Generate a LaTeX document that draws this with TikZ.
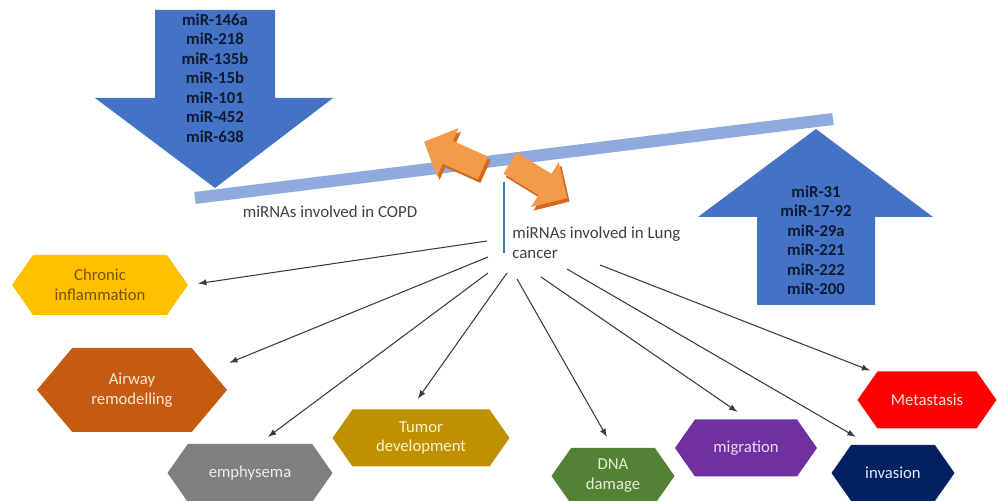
\documentclass[tikz,border=0pt]{standalone}
\usepackage{fontspec}
\setmainfont{Carlito}
\usepackage{tikz}
\usetikzlibrary{arrows}
\usetikzlibrary{shapes.symbols}

\definecolor{arrowblue}{HTML}{4472C4}
\definecolor{barblue}{HTML}{8FAADC}
\definecolor{mirtext}{HTML}{0F1A33}
\definecolor{captext}{HTML}{404040}
\definecolor{linkgray}{HTML}{3A3A3A}
\definecolor{orangelight}{HTML}{F39B4A}
\definecolor{orangedark}{HTML}{D2691E}
\definecolor{chronicfill}{HTML}{FFC000}
\definecolor{chronictext}{HTML}{7F5200}
\definecolor{airwayfill}{HTML}{C55A11}
\definecolor{airwaytext}{HTML}{FBE5D6}
\definecolor{emphfill}{HTML}{7F7F7F}
\definecolor{emphtext}{HTML}{EDEDED}
\definecolor{tumorfill}{HTML}{BF9000}
\definecolor{tumortext}{HTML}{FFF2CC}
\definecolor{dnafill}{HTML}{548235}
\definecolor{dnatext}{HTML}{E2F0D9}
\definecolor{migrfill}{HTML}{7030A0}
\definecolor{migrtext}{HTML}{E8DAF5}
\definecolor{invfill}{HTML}{002060}
\definecolor{invtext}{HTML}{DEEBF7}
\definecolor{metafill}{HTML}{FF0000}
\definecolor{metatext}{HTML}{FFE0E0}

\begin{document}
\begin{tikzpicture}[>=latex,
  hexa/.style={signal, signal to=east and west, signal pointer angle=110, inner sep=0pt, align=center,
    font=\fontsize{9.5}{11.3}\selectfont, fill=#1},
  mirlist/.style={align=center, inner sep=0pt, text=mirtext, font=\fontsize{9.5}{11.1}\selectfont\bfseries},
  caption/.style={align=left, inner sep=0pt, text=captext, font=\fontsize{9.6}{11.4}\selectfont},
  link/.style={->, semithick, draw=linkgray}]

\useasboundingbox (0,0) rectangle (19.96,10.02);

\fill [arrowblue] (3.10,9.82) -- (5.50,9.82) -- (5.50,8.06) -- (6.66,8.06) -- (4.30,6.26) -- (1.90,8.06) -- (3.10,8.06) -- cycle;
\fill [arrowblue] (15.14,3.92) -- (17.50,3.92) -- (17.50,5.68) -- (18.66,5.68) -- (16.32,7.44) -- (13.96,5.68) -- (15.14,5.68) -- cycle;

\coordinate (barl) at (3.90,6.06);
\coordinate (barr) at (16.66,7.64);
\draw [barblue, line width=0.24cm] (barl) -- (barr);

\foreach \dx/\dy/\c in {0.05/-0.07/orangedark, 0/0/orangelight}{
  \begin{scope}[shift={(9.66+\dx,6.66+\dy)}, rotate=156]
    \fill [\c] (0,-0.25) -- (0.77,-0.25) -- (0.77,-0.53) -- (1.29,0) -- (0.77,0.53) -- (0.77,0.25) -- (0,0.25) -- cycle;
  \end{scope}
  \begin{scope}[shift={(10.20+\dx,6.76+\dy)}, rotate=-31.6]
    \fill [\c] (0,-0.25) -- (0.82,-0.25) -- (0.82,-0.53) -- (1.34,0) -- (0.82,0.53) -- (0.82,0.25) -- (0,0.25) -- cycle;
  \end{scope}
}

\draw [arrowblue, line width=0.04cm] (10.08,6.38) -- (10.08,4.96);

\node [mirlist] (copdmirs) at (4.30,8.46) {miR-146a\\miR-218\\miR-135b\\miR-15b\\miR-101\\miR-452\\miR-638};
\node [mirlist] (lungmirs) at (16.32,5.22) {miR-31\\miR-17-92\\miR-29a\\miR-221\\miR-222\\miR-200};

\node [caption] (copd) at (6.60,5.78) {miRNAs involved in COPD};
\node [caption, anchor=west] (lung) at (10.24,5.16) {miRNAs involved in Lung\\cancer};

\node [hexa=chronicfill, text=chronictext, minimum width=3.52cm, minimum height=1.20cm] (chronic) at (2.00,4.32) {Chronic\\inflammation};
\node [hexa=airwayfill, text=airwaytext, signal pointer angle=100, minimum width=3.80cm, minimum height=1.68cm] (airway) at (2.64,2.22) {Airway\\remodelling};
\node [hexa=emphfill, text=emphtext, minimum width=3.30cm, minimum height=1.16cm] (emph) at (5.00,0.56) {emphysema};
\node [hexa=tumorfill, text=tumortext, minimum width=3.54cm, minimum height=1.14cm] (tumor) at (8.42,1.26) {Tumor\\development};
\node [hexa=dnafill, text=dnatext, minimum width=2.46cm, minimum height=1.12cm] (dna) at (12.26,0.50) {DNA\\damage};
\node [hexa=migrfill, text=migrtext, minimum width=2.84cm, minimum height=1.14cm] (migration) at (14.92,1.06) {migration};
\node [hexa=invfill, text=invtext, minimum width=2.46cm, minimum height=1.12cm] (invasion) at (17.86,0.56) {invasion};
\node [hexa=metafill, text=metatext, minimum width=2.78cm, minimum height=1.14cm] (metastasis) at (18.54,2.02) {Metastasis};

\coordinate (s1) at (9.74,5.20);
\coordinate (s2) at (9.76,4.88);
\coordinate (s3) at (9.76,4.56);
\coordinate (s4) at (10.14,4.56);
\coordinate (s5) at (10.34,4.44);
\coordinate (s6) at (10.82,4.48);
\coordinate (s7) at (11.34,4.64);
\coordinate (s8) at (12.00,4.72);

\draw [link, shorten >=0.20cm] (s1) -- (chronic.east);
\draw [link, shorten >=0.40cm] (s2) -- (airway.14);
\draw [link, shorten >=0.23cm] (s3) -- (emph.73);
\draw [link, shorten >=0.26cm] (s4) -- (tumor.110);
\draw [link, shorten >=0.25cm] (s5) -- (dna.north);
\draw [link, shorten >=0.26cm] (s6) -- (migration.86);
\draw [link, shorten >=0.32cm] (s7) -- (invasion.130);
\draw [link, shorten >=0.13cm] (s8) -- (metastasis.152);

\end{tikzpicture}
\end{document}
